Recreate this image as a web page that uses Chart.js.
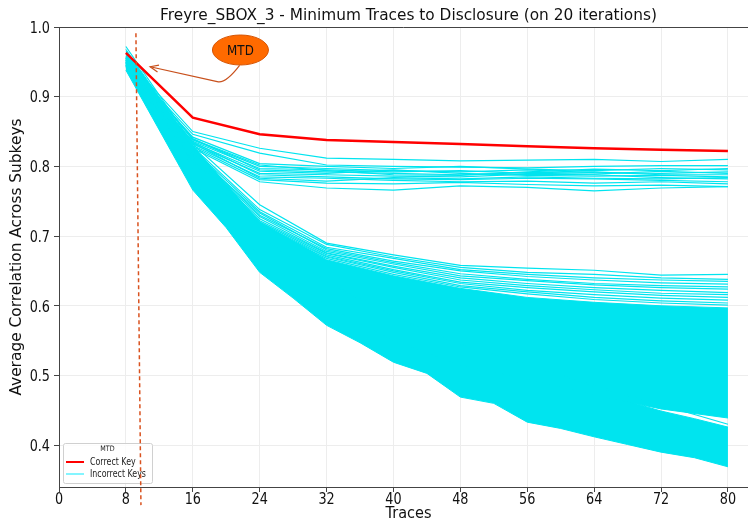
<!DOCTYPE html>
<html>
<head>
<meta charset="utf-8">
<script src="https://cdn.jsdelivr.net/npm/chart.js@4.4.1/dist/chart.umd.min.js"></script>
<style>
  html, body { margin: 0; padding: 0; background: #fff; }
</style>
</head>
<body>
<canvas id="mtdChart" width="748" height="521"></canvas>
<script>
// x positions (number of traces)
const traces = [8, 16, 24, 32, 40, 48, 56, 64, 72, 80];
const envTraces = [8, 16, 20, 24, 28, 32, 36, 40, 44, 48, 52, 56, 60, 64, 68, 72, 76, 80];

const xTicks = [0, 8, 16, 24, 32, 40, 48, 56, 64, 72, 80];
const yTicks = [0.4, 0.5, 0.6, 0.7, 0.8, 0.9, 1.0];

// correct key
const correctKey = [0.963, 0.870, 0.846, 0.838, 0.835, 0.832, 0.829, 0.826, 0.824, 0.822];

// incorrect keys that stay high (~0.77-0.81)
const highKeys = [
  [0.955, 0.850, 0.826, 0.812, 0.810, 0.808, 0.809, 0.810, 0.807, 0.810],
  [0.950, 0.846, 0.819, 0.802, 0.800, 0.799, 0.798, 0.800, 0.801, 0.801],
  [0.948, 0.842, 0.804, 0.800, 0.797, 0.800, 0.796, 0.794, 0.797, 0.795],
  [0.957, 0.838, 0.800, 0.797, 0.794, 0.792, 0.795, 0.791, 0.790, 0.792],
  [0.945, 0.836, 0.797, 0.795, 0.792, 0.794, 0.790, 0.789, 0.793, 0.790],
  [0.952, 0.840, 0.795, 0.792, 0.790, 0.788, 0.791, 0.792, 0.788, 0.788],
  [0.947, 0.834, 0.793, 0.790, 0.795, 0.790, 0.787, 0.786, 0.787, 0.785],
  [0.953, 0.832, 0.790, 0.788, 0.786, 0.785, 0.789, 0.788, 0.784, 0.782],
  [0.944, 0.835, 0.788, 0.785, 0.782, 0.781, 0.783, 0.782, 0.780, 0.778],
  [0.950, 0.830, 0.785, 0.783, 0.780, 0.778, 0.779, 0.776, 0.778, 0.775],
  [0.946, 0.828, 0.781, 0.776, 0.775, 0.777, 0.774, 0.772, 0.773, 0.771],
  [0.942, 0.826, 0.778, 0.769, 0.766, 0.772, 0.770, 0.765, 0.769, 0.771],
  [0.949, 0.833, 0.783, 0.779, 0.784, 0.782, 0.785, 0.783, 0.782, 0.784],
  [0.954, 0.839, 0.802, 0.794, 0.788, 0.787, 0.792, 0.796, 0.794, 0.797]
];

// incorrect keys on the upper edge of the big band
const edgeKeys = [
  [0.972, 0.832, 0.745, 0.690, 0.673, 0.658, 0.654, 0.651, 0.644, 0.645],
  [0.958, 0.828, 0.738, 0.688, 0.670, 0.655, 0.648, 0.645, 0.640, 0.638],
  [0.953, 0.825, 0.735, 0.684, 0.668, 0.652, 0.645, 0.640, 0.637, 0.635],
  [0.950, 0.822, 0.730, 0.682, 0.664, 0.650, 0.642, 0.637, 0.633, 0.631],
  [0.956, 0.820, 0.733, 0.680, 0.662, 0.646, 0.638, 0.632, 0.629, 0.627],
  [0.948, 0.818, 0.728, 0.678, 0.660, 0.643, 0.636, 0.630, 0.626, 0.624],
  [0.952, 0.815, 0.725, 0.676, 0.657, 0.640, 0.632, 0.626, 0.622, 0.619],
  [0.946, 0.812, 0.722, 0.675, 0.655, 0.637, 0.629, 0.623, 0.618, 0.616],
  [0.955, 0.816, 0.720, 0.673, 0.652, 0.634, 0.626, 0.620, 0.615, 0.612],
  [0.949, 0.810, 0.718, 0.671, 0.650, 0.632, 0.622, 0.616, 0.611, 0.608],
  [0.944, 0.808, 0.716, 0.670, 0.648, 0.629, 0.620, 0.612, 0.607, 0.604],
  [0.951, 0.806, 0.714, 0.668, 0.645, 0.627, 0.617, 0.609, 0.604, 0.601],
  [0.952, 0.795, 0.700, 0.635, 0.585, 0.545, 0.515, 0.485, 0.458, 0.430]
];

// dense part of the band (too many lines to tell apart)
const denseTop = [0.968, 0.830, 0.720, 0.666, 0.643, 0.625, 0.612, 0.605, 0.600, 0.597];
const denseFloor = [0.945, 0.780, 0.670, 0.600, 0.550, 0.515, 0.495, 0.472, 0.452, 0.439];
const lowStrandTop = [0.955, 0.800, 0.750, 0.700, 0.660, 0.630, 0.600, 0.575, 0.552, 0.532, 0.515, 0.500, 0.487, 0.475, 0.463, 0.449, 0.438, 0.426];
const lowStrandFloor = [0.938, 0.766, 0.712, 0.648, 0.611, 0.572, 0.547, 0.519, 0.503, 0.469, 0.460, 0.433, 0.424, 0.412, 0.401, 0.390, 0.382, 0.369];

// MTD marker and annotation (data coords)
const mtdX = [9.2, 9.8];
const mtdY = [0.991, 0.314];
const mtdLabel = { x: 21.7, y: 0.967 };
const arrowPath = [{ x: 21.6, y: 0.945 }, { x: 19.4, y: 0.921 }, { x: 10.9, y: 0.943 }];

const CYAN = "#00e4ef";
const FONT = "DejaVu Sans";

const toPoints = (xs, ys) => xs.map((x, i) => ({ x: x, y: ys[i] }));

const lineSet = (ys, color, width, xs = traces) => ({
  data: toPoints(xs, ys),
  borderColor: color,
  borderWidth: width,
  pointRadius: 0,
  fill: false,
  tension: 0,
});

const datasets = [];
datasets.push(lineSet(correctKey, "#ff0000", 2.5));
for (let k of highKeys) datasets.push(lineSet(k, CYAN, 1.2));
for (let k of edgeKeys) datasets.push(lineSet(k, CYAN, 1.2));

// dense band, filled between top and floor
let a = lineSet(denseTop, CYAN, 1);
a.fill = "+1";
a.backgroundColor = CYAN;
datasets.push(a);
datasets.push(lineSet(denseFloor, CYAN, 1));

let b = lineSet(lowStrandTop, CYAN, 1, envTraces);
b.fill = "+1";
b.backgroundColor = CYAN;
datasets.push(b);
datasets.push(lineSet(lowStrandFloor, CYAN, 1, envTraces));

// text squeezed sideways like the reference
const squeezed = (ctx, text, x, y, sx) => {
  ctx.save();
  ctx.translate(x, y);
  ctx.scale(sx, 1);
  ctx.fillText(text, 0, 0);
  ctx.restore();
};

const extras = {
  id: "extras",
  afterDraw(chart) {
    const ctx = chart.ctx;
    const xs = chart.scales.x;
    const ys = chart.scales.y;
    const area = chart.chartArea;
    const midX = xs.getPixelForValue(41.8);
    ctx.save();

    // top spine
    ctx.strokeStyle = "#444";
    ctx.lineWidth = 1;
    ctx.beginPath();
    ctx.moveTo(area.left, area.top + 0.5);
    ctx.lineTo(area.right, area.top + 0.5);
    ctx.stroke();

    // tick labels
    ctx.fillStyle = "#111";
    ctx.font = `16px "${FONT}"`;
    ctx.textBaseline = "alphabetic";
    ctx.textAlign = "center";
    for (let v of xTicks) squeezed(ctx, String(v), xs.getPixelForValue(v), 504, 0.8);
    ctx.textAlign = "right";
    for (let v of yTicks) squeezed(ctx, v.toFixed(1), 50, ys.getPixelForValue(v) + 5.8, 0.8);

    // title + axis titles
    ctx.textAlign = "center";
    ctx.textBaseline = "middle";
    ctx.font = `16.5px "${FONT}"`;
    squeezed(ctx, "Freyre_SBOX_3 - Minimum Traces to Disclosure (on 20 iterations)", midX, 16, 0.93);
    squeezed(ctx, "Traces", midX, 514, 0.88);
    ctx.save();
    ctx.translate(17, (area.top + area.bottom) / 2);
    ctx.rotate(-Math.PI / 2);
    ctx.font = `15.4px "${FONT}"`;
    ctx.fillText("Average Correlation Across Subkeys", 0, 0);
    ctx.restore();

    // legend
    const lx = 63, ly = 443, lw = 89, lh = 40;
    ctx.fillStyle = "rgba(255,255,255,0.8)";
    ctx.strokeStyle = "#d0d0d0";
    ctx.beginPath();
    ctx.roundRect(lx + 0.5, ly + 0.5, lw, lh, 2);
    ctx.fill();
    ctx.stroke();
    ctx.fillStyle = "#222";
    ctx.font = `7.5px "${FONT}"`;
    squeezed(ctx, "MTD", lx + lw / 2, ly + 6, 0.85);
    ctx.textAlign = "left";
    ctx.font = `10px "${FONT}"`;
    const entries = [["Correct Key", "#ff0000", 2], ["Incorrect Keys", "#33eeff", 1.2]];
    entries.forEach((e, i) => {
      const yy = ly + 19 + i * 12;
      ctx.strokeStyle = e[1];
      ctx.lineWidth = e[2];
      ctx.beginPath();
      ctx.moveTo(lx + 3, yy);
      ctx.lineTo(lx + 21, yy);
      ctx.stroke();
      ctx.fillStyle = "#222";
      squeezed(ctx, e[0], lx + 27, yy, 0.79);
    });

    // MTD dashed line
    ctx.strokeStyle = "#d9521f";
    ctx.lineWidth = 1.5;
    ctx.setLineDash([4, 3]);
    ctx.beginPath();
    ctx.moveTo(xs.getPixelForValue(mtdX[0]), ys.getPixelForValue(mtdY[0]));
    ctx.lineTo(xs.getPixelForValue(mtdX[1]), ys.getPixelForValue(mtdY[1]));
    ctx.stroke();
    ctx.setLineDash([]);

    // arrow
    const p = arrowPath.map((q) => ({ x: xs.getPixelForValue(q.x), y: ys.getPixelForValue(q.y) }));
    ctx.strokeStyle = "#c8501c";
    ctx.lineWidth = 1.2;
    ctx.beginPath();
    ctx.moveTo(p[0].x, p[0].y);
    ctx.quadraticCurveTo(p[1].x + 4, p[1].y + 2, p[1].x - 4, p[1].y - 0.5);
    ctx.lineTo(p[2].x, p[2].y);
    ctx.stroke();
    const ang = Math.atan2(p[2].y - p[1].y, p[2].x - p[1].x);
    ctx.beginPath();
    ctx.moveTo(p[2].x - 9 * Math.cos(ang - 0.4), p[2].y - 9 * Math.sin(ang - 0.4));
    ctx.lineTo(p[2].x, p[2].y);
    ctx.lineTo(p[2].x - 9 * Math.cos(ang + 0.4), p[2].y - 9 * Math.sin(ang + 0.4));
    ctx.stroke();

    // MTD label ellipse
    const cx = xs.getPixelForValue(mtdLabel.x);
    const cy = ys.getPixelForValue(mtdLabel.y);
    ctx.fillStyle = "#ff6a00";
    ctx.strokeStyle = "#d65300";
    ctx.lineWidth = 1;
    ctx.beginPath();
    ctx.ellipse(cx, cy, 28, 15, 0, 0, Math.PI * 2);
    ctx.fill();
    ctx.stroke();
    ctx.fillStyle = "#111";
    ctx.textAlign = "center";
    ctx.font = `14px "${FONT}"`;
    squeezed(ctx, "MTD", cx, cy + 1, 0.85);

    ctx.restore();
  },
};

new Chart(document.getElementById("mtdChart"), {
  type: "line",
  data: { datasets: datasets },
  options: {
    responsive: false,
    animation: false,
    events: [],
    layout: { padding: { top: 27, right: 0, left: 0, bottom: 0 } },
    plugins: { legend: { display: false }, title: { display: false }, tooltip: { enabled: false } },
    scales: {
      x: {
        type: "linear",
        min: 0,
        max: 82.4,
        afterBuildTicks: (s) => { s.ticks = xTicks.map((v) => ({ value: v })); },
        afterFit: (s) => { s.height = 34; },
        ticks: { display: false },
        grid: { color: "#ededed", tickLength: 5, tickColor: "#444" },
        border: { color: "#444" },
      },
      y: {
        min: 0.34,
        max: 1.0,
        afterBuildTicks: (s) => { s.ticks = yTicks.map((v) => ({ value: v })); },
        afterFit: (s) => { s.width = 59; },
        ticks: { display: false },
        grid: { color: "#ededed", tickLength: 5, tickColor: "#444" },
        border: { color: "#444" },
      },
    },
  },
  plugins: [extras],
});
</script>
</body>
</html>
